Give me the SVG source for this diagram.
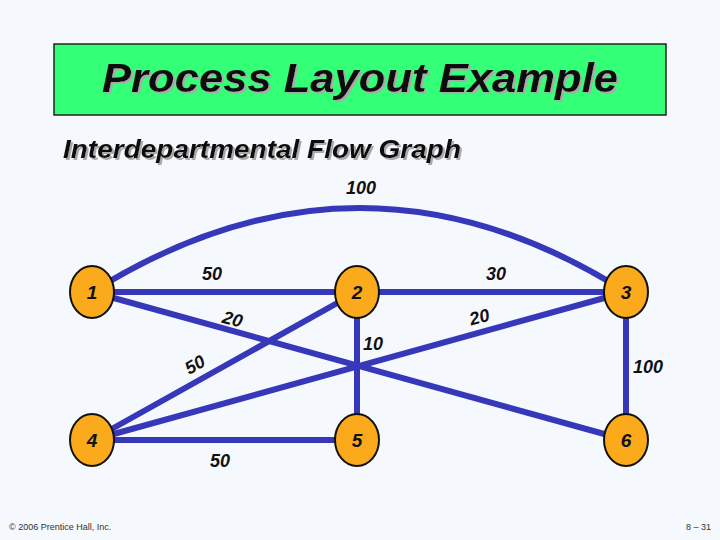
<svg xmlns="http://www.w3.org/2000/svg" width="720" height="540" viewBox="0 0 720 540">
<defs>
<filter id="sh" x="-5%" y="-20%" width="110%" height="140%"><feOffset in="SourceAlpha" dx="2" dy="2" result="o"/><feFlood flood-color="#aaa"/><feComposite in2="o" operator="in"/><feMerge><feMergeNode/><feMergeNode in="SourceGraphic"/></feMerge></filter>
</defs>
<style>
.e{stroke:#3737b9;stroke-width:6;fill:none}
.n ellipse{fill:#fbaa1b;stroke:#111;stroke-width:2}
.n text{font:italic bold 19px "Liberation Sans",sans-serif;text-anchor:middle;fill:#111}
.l{font:italic bold 18px "Liberation Sans",sans-serif;text-anchor:middle;fill:#111}
.f{font:9px "Liberation Sans",sans-serif;fill:#333}
</style>
<rect width="720" height="540" fill="#f5f8fc"/>
<rect x="54" y="44" width="612" height="71" fill="#33ff77" stroke="#222" stroke-width="1.5"/>
<text x="360" y="92" filter="url(#sh)" font-family="Liberation Sans,sans-serif" font-size="40" font-style="italic" font-weight="bold" text-anchor="middle" fill="#111" textLength="516" lengthAdjust="spacingAndGlyphs">Process Layout Example</text>
<text x="63" y="158" filter="url(#sh)" font-family="Liberation Sans,sans-serif" font-size="25" font-style="italic" font-weight="bold" fill="#111" textLength="398" lengthAdjust="spacingAndGlyphs">Interdepartmental Flow Graph</text>
<g id="connectors">
<path class="e" d="M92 292 Q360 124 626 292"/>
<line class="e" x1="92" y1="292" x2="357" y2="292"/>
<line class="e" x1="357" y1="292" x2="626" y2="292"/>
<line class="e" x1="92" y1="292" x2="626" y2="440"/>
<line class="e" x1="357" y1="292" x2="92" y2="440"/>
<line class="e" x1="357" y1="292" x2="357" y2="440"/>
<line class="e" x1="626" y1="292" x2="92" y2="440"/>
<line class="e" x1="626" y1="292" x2="626" y2="440"/>
<line class="e" x1="92" y1="440" x2="357" y2="440"/>
</g>
<g id="labels">
<text class="l" x="361" y="194">100</text>
<text class="l" x="212" y="280">50</text>
<text class="l" x="496" y="280">30</text>
<text class="l" transform="translate(231,325) rotate(15)">20</text>
<text class="l" transform="translate(481,323) rotate(-15)">20</text>
<text class="l" x="373" y="350">10</text>
<text class="l" transform="translate(198,370) rotate(-30)">50</text>
<text class="l" x="648" y="373">100</text>
<text class="l" x="220" y="467">50</text>
</g>
<g id="n1" class="n"><ellipse cx="92" cy="292" rx="22" ry="26"/><text x="92" y="299">1</text></g>
<g id="n2" class="n"><ellipse cx="357" cy="292" rx="22" ry="26"/><text x="357" y="299">2</text></g>
<g id="n3" class="n"><ellipse cx="626" cy="292" rx="22" ry="26"/><text x="626" y="299">3</text></g>
<g id="n4" class="n"><ellipse cx="92" cy="440" rx="22" ry="26"/><text x="92" y="447">4</text></g>
<g id="n5" class="n"><ellipse cx="357" cy="440" rx="22" ry="26"/><text x="357" y="447">5</text></g>
<g id="n6" class="n"><ellipse cx="626" cy="440" rx="22" ry="26"/><text x="626" y="447">6</text></g>
<text class="f" x="9" y="530">© 2006 Prentice Hall, Inc.</text>
<text class="f" x="711" y="530" text-anchor="end">8 – 31</text>
</svg>
